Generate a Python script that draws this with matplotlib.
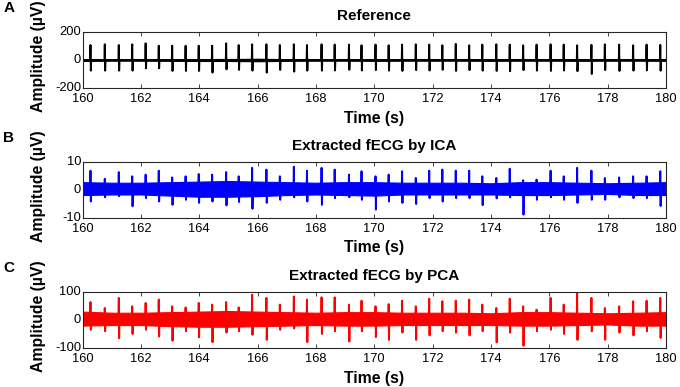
import matplotlib
matplotlib.use('Agg')
import matplotlib.pyplot as plt

# ---- data ----
beat_times = [160.28, 160.77, 161.25, 161.71, 162.17, 162.62, 163.08, 163.54, 163.99, 164.45,
              164.93, 165.36, 165.82, 166.31, 166.77, 167.25, 167.70, 168.20, 168.65, 169.14,
              169.57, 170.05, 170.50, 170.96, 171.43, 171.89, 172.34, 172.80, 173.26, 173.71,
              174.19, 174.65, 175.11, 175.57, 176.05, 176.50, 176.96, 177.45, 177.91, 178.40,
              178.88, 179.34, 179.81]

ref_up = [107, 112, 107, 112, 119, 102, 102, 102, 102, 102, 119, 107, 112, 112, 107, 112, 107, 112, 110,
          110, 105, 110, 105, 110, 112, 110, 105, 115, 105, 110, 112, 110, 105, 110, 112, 110, 105, 108,
          112, 110, 105, 110, 108]
ref_down = [-76, -76, -76, -76, -59, -59, -78, -78, -78, -90, -67, -71, -76, -90, -71, -83, -76, -76, -75,
            -70, -75, -72, -76, -78, -72, -75, -70, -78, -72, -76, -78, -80, -72, -76, -78, -75, -80,
            -100, -72, -78, -76, -74, -76]

ica_up = [6.9, 4.0, 6.4, 4.9, 5.5, 6.9, 4.5, 4.9, 5.7, 5.5, 6.4, 4.9, 7.9, 7.3,
          4.9, 8.3, 6.9, 7.9, 7.3, 5.5, 6.7, 4.9, 5.5, 6.7, 4.3, 6.9, 7.3, 6.9, 6.9,
          4.9, 4.3, 7.6, 3.5, 3.7, 6.9, 4.9, 7.9, 6.9, 4.3, 4.5, 4.9, 4.9, 6.7]
ica_down = [-4.1, -2.6, -2.2, -5.8, -2.9, -4.1, -5.3, -3.5, -4.6, -4.1, -5.5, -4.3, -6.7, -4.6,
            -3.5, -2.6, -4.1, -5.3, -2.9, -2.6, -3.5, -7.0, -4.1, -4.6, -5.0, -2.9, -4.1, -2.9, -2.9,
            -5.4, -3.0, -2.6, -8.8, -3.5, -2.6, -3.5, -4.6, -3.5, -3.5, -2.6, -2.9, -2.9, -5.7]

pca_up = [64, 43, 79, 49, 61, 73, 49, 45, 61, 55, 64, 45, 90, 79,
          55, 84, 73, 81, 81, 55, 69, 49, 57, 69, 49, 76, 67, 69, 73,
          55, 43, 76, 49, 37, 79, 55, 95, 79, 43, 49, 67, 69, 79]
pca_down = [-35, -40, -65, -50, -35, -59, -74, -40, -62, -79, -45, -40, -53, -71,
            -35, -30, -79, -50, -40, -77, -40, -61, -71, -45, -71, -55, -40, -45, -55,
            -40, -80, -45, -92, -40, -35, -50, -71, -40, -71, -45, -55, -40, -64]

env_times = [160, 161, 162, 163, 164, 165, 166, 167, 168, 169, 170,
             171, 172, 173, 174, 175, 176, 177, 178, 179, 180]
ref_env_hi = [7, 5, 5, 6, 7, 7, 9, 6, 5, 5, 6, 5, 5, 5, 6, 5, 5, 6, 5, 5, 6]
ref_env_lo = [-7, -5, -5, -6, -7, -7, -9, -6, -5, -5, -6, -5, -5, -5, -6, -5, -5, -6, -5, -5, -6]
ica_env_hi = [2.8, 2.6, 2.6, 2.8, 3.0, 3.2, 3.0, 2.8, 2.6, 2.8, 2.8, 2.6, 2.6, 2.6, 2.4, 2.8, 2.8, 2.6, 2.4, 2.6, 2.8]
ica_env_lo = [-1.8, -1.6, -1.6, -2.0, -2.4, -2.4, -2.2, -1.8, -1.6, -1.8, -2.0, -1.6, -1.6, -1.6, -1.6, -1.8, -1.8, -1.6, -1.4, -1.8, -1.8]
pca_env_hi = [30, 26, 26, 28, 30, 32, 30, 28, 26, 28, 28, 26, 26, 26, 24, 28, 28, 26, 24, 26, 28]
pca_env_lo = [-20, -18, -18, -22, -24, -24, -22, -20, -18, -20, -20, -18, -18, -18, -18, -20, -20, -18, -16, -20, -20]

panel_letters = ['A', 'B', 'C']
titles = ['Reference', 'Extracted fECG by ICA', 'Extracted fECG by PCA']
ylims = [(-200, 200), (-10, 10), (-100, 100)]
yticks = [[-200, 0, 200], [-10, 0, 10], [-100, 0, 100]]
xticks = [160, 162, 164, 166, 168, 170, 172, 174, 176, 178, 180]
colors = ['#000000', '#0000FF', '#FF0000']

W, H = 680, 387
plt.rcParams['font.family'] = ['Liberation Sans', 'DejaVu Sans']
plt.rcParams['axes.unicode_minus'] = False
fig = plt.figure(figsize=(W / 100, H / 100), dpi=100)


def spike_path(times, ups, downs, w=0.018):
    xs, ys = [160.0], [0.0]
    for t, u, d in zip(times, ups, downs):
        xs += [t - w, t - w / 3, t + w / 3, t + w]
        ys += [0, u, d, 0]
    xs.append(180.0)
    ys.append(0.0)
    return xs, ys


series = [(ref_up, ref_down, ref_env_hi, ref_env_lo),
          (ica_up, ica_down, ica_env_hi, ica_env_lo),
          (pca_up, pca_down, pca_env_hi, pca_env_lo)]

tops = [32, 162, 292]
bottoms = [88, 218, 348]
left, right = 82.5, 666
for i in range(3):
    ax = fig.add_axes([left / W, 1 - bottoms[i] / H, (right - left) / W, (bottoms[i] - tops[i]) / H])
    up, down, hi, lo = series[i]
    c = colors[i]
    ax.fill_between(env_times, lo, hi, color=c, lw=0.8)
    xs, ys = spike_path(beat_times, up, down)
    ax.plot(xs, ys, color=c, lw=1.4)
    ax.set_xlim(160, 180)
    ax.set_ylim(*ylims[i])
    ax.set_xticks(xticks)
    ax.set_yticks(yticks[i])
    ax.tick_params(direction='in', top=True, right=True, length=3, width=0.6,
                   labelsize=9.3, pad=3.5, colors='#262626', labelcolor='black')
    ax.tick_params(axis='y', pad=1)
    for lab in ax.get_yticklabels():
        lab.set_verticalalignment('center')
    for s in ax.spines.values():
        s.set_linewidth(0.8)
        s.set_color('#262626')
    cx = (left + right) / 2 / W
    yc = (tops[i] + bottoms[i]) / 2
    fig.text(cx, 1 - (tops[i] - 16) / H, titles[i], ha='center', va='center',
             fontsize=11, fontweight='bold')
    fig.text(cx, 1 - (bottoms[i] + 30) / H, 'Time (s)', ha='center', va='center',
             fontsize=11.3, fontweight='bold')
    fig.text(38 / W, 1 - (yc - 4) / H, 'Amplitude (µV)', ha='center', va='center',
             rotation=90, fontsize=11.3, fontweight='bold')
    fig.text(9 / W, 1 - (tops[i] - 24) / H, panel_letters[i], ha='center', va='center',
             fontsize=11, fontweight='bold')

fig.savefig('out.png', dpi=100)
